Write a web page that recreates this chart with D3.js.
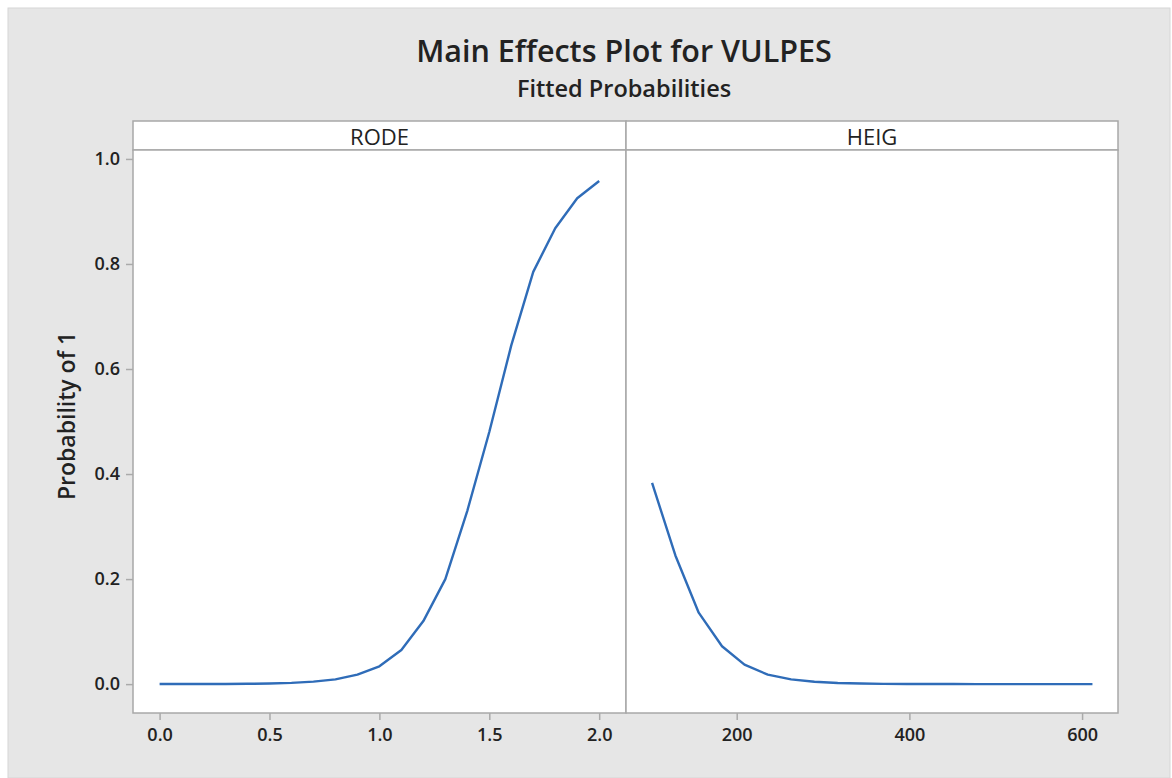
<!DOCTYPE html>
<html>
<head>
<meta charset="utf-8">
<script src="https://cdn.jsdelivr.net/npm/d3@7"></script>
<style>
  body { margin: 0; background: #fff; }
  text { font-family: "Open Sans", "Noto Sans", sans-serif; fill: #222; }
</style>
</head>
<body>
<div id="chart"></div>
<script>
// data
const rodeX = [0.0, 0.1, 0.2, 0.3, 0.4, 0.5, 0.6, 0.7, 0.8, 0.9, 1.0,
               1.1, 1.2, 1.3, 1.4, 1.5, 1.6, 1.7, 1.8, 1.9, 2.0];
const rodeP = [0.0001, 0.0001, 0.0002, 0.0003, 0.0006, 0.0012, 0.0024, 0.0048, 0.009, 0.018, 0.034,
               0.065, 0.12, 0.2, 0.33, 0.48, 0.645, 0.785, 0.868, 0.925, 0.958];
const heigX = [102, 129, 156, 183, 209, 236, 263, 290, 317, 344,
               370, 397, 424, 451, 478, 505, 532, 558, 585, 612];
const heigP = [0.383, 0.245, 0.136, 0.072, 0.037, 0.018, 0.009, 0.0045, 0.0022, 0.0011,
               0.0005, 0.0003, 0.0001, 0.0001, 0, 0, 0, 0, 0, 0];
const yTicks = [0, 0.2, 0.4, 0.6, 0.8, 1.0];
const rodeTicks = [0, 0.5, 1.0, 1.5, 2.0];
const heigTicks = [200, 400, 600];

const width = 1172, height = 778;
const plotTop = 150, plotBottom = 713, headTop = 121;

const svg = d3.select("#chart").append("svg")
  .attr("width", width)
  .attr("height", height);

svg.append("rect")
  .attr("x", 8).attr("y", 8)
  .attr("width", 1162).attr("height", 770)
  .attr("fill", "#e6e6e6")
  .attr("stroke", "#d6d6d6");

svg.append("text")
  .attr("x", 624).attr("y", 62)
  .attr("text-anchor", "middle")
  .style("font-size", "30.5px")
  .style("font-weight", 600)
  .text("Main Effects Plot for VULPES");

svg.append("text")
  .attr("x", 624).attr("y", 97)
  .attr("text-anchor", "middle")
  .style("font-size", "23.5px")
  .style("font-weight", 600)
  .text("Fitted Probabilities");

const y = d3.scaleLinear().domain([-0.055, 1.017]).range([plotBottom, plotTop]);

const panels = [
  { name: "RODE", xs: rodeX, ps: rodeP, ticks: rodeTicks, fmt: d3.format(".1f"),
    x: d3.scaleLinear().domain([-0.121, 2.122]).range([133, 626]) },
  { name: "HEIG", xs: heigX, ps: heigP, ticks: heigTicks, fmt: d3.format("d"),
    x: d3.scaleLinear().domain([71.8, 641.6]).range([626, 1118]) }
];

const line = d3.line();

panels.forEach((p) => {
  const [x0, x1] = p.x.range();
  const g = svg.append("g");

  // header strip
  g.append("rect")
    .attr("x", x0).attr("y", headTop)
    .attr("width", x1 - x0).attr("height", plotTop - headTop)
    .attr("fill", "#fff")
    .attr("stroke", "#a8a8a8").attr("stroke-width", 1.5);
  g.append("text")
    .attr("x", (x0 + x1) / 2).attr("y", plotTop - 5)
    .attr("text-anchor", "middle")
    .style("font-size", "22px")
    .text(p.name);

  // plot body
  g.append("rect")
    .attr("x", x0).attr("y", plotTop)
    .attr("width", x1 - x0).attr("height", plotBottom - plotTop)
    .attr("fill", "#fff")
    .attr("stroke", "#a8a8a8").attr("stroke-width", 1.5);

  // x axis
  const xAxis = g.append("g")
    .attr("transform", `translate(0,${plotBottom})`)
    .call(d3.axisBottom(p.x).tickValues(p.ticks).tickFormat(p.fmt).tickSize(7).tickPadding(8));
  xAxis.select(".domain").remove();
  xAxis.selectAll("line").attr("stroke", "#aaa").attr("stroke-width", 1.5);
  xAxis.selectAll("text").style("font-size", "18px").style("font-weight", 600).attr("fill", "#222");

  g.append("path")
    .datum(p.xs.map((v, i) => [p.x(v), y(p.ps[i])]))
    .attr("d", line)
    .attr("fill", "none")
    .attr("stroke", "#2f6cb8")
    .attr("stroke-width", 2.4)
    .attr("stroke-linejoin", "round");
});

// y axis on the left panel
const yAxis = svg.append("g")
  .attr("transform", "translate(133,0)")
  .call(d3.axisLeft(y).tickValues(yTicks).tickFormat(d3.format(".1f")).tickSize(7).tickPadding(6));
yAxis.select(".domain").remove();
yAxis.selectAll("line").attr("stroke", "#aaa").attr("stroke-width", 1.5);
yAxis.selectAll("text").style("font-size", "18px").style("font-weight", 600).attr("fill", "#222");

svg.append("text")
  .attr("transform", "translate(75,416) rotate(-90)")
  .attr("text-anchor", "middle")
  .style("font-size", "23px")
  .style("font-weight", 600)
  .text("Probability of 1");
</script>
</body>
</html>
